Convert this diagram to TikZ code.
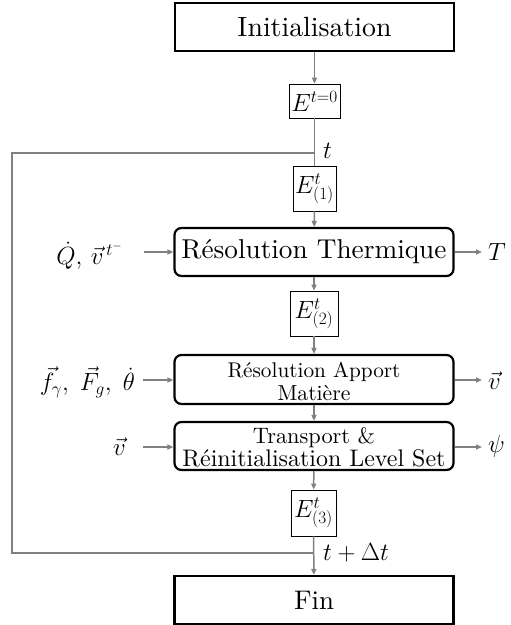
\documentclass[tikz,border=0pt]{standalone}
\usepackage{fontspec}
\usepackage{graphicx}
\setmainfont{lmroman10-regular.otf}[BoldFont=lmroman10-bold.otf,ItalicFont=lmroman10-italic.otf]
\usetikzlibrary{arrows.meta}
\definecolor{lgray}{RGB}{128,128,128}
\newcommand{\fitw}[2]{\resizebox{#1}{!}{#2}}
\begin{document}
\begin{tikzpicture}[x=1pt,y=-1pt,
  bigbox/.style={draw=black,line width=2.2pt,minimum width=279pt,minimum height=48pt,inner sep=0pt,font=\fontsize{27.5}{30}\selectfont},
  rbigbox/.style={bigbox,rounded corners=7pt},
  twoline/.style={align=center,inner sep=0pt,font=\fontsize{22}{23}\selectfont},
  ebox/.style={draw=black,line width=0.8pt,inner sep=0pt,font=\fontsize{24}{26}\selectfont},
  lab/.style={inner sep=0pt,font=\fontsize{24}{26}\selectfont},
  conn/.style={draw=lgray,line width=1.5pt},
  arr/.style={conn,-{Triangle[length=6pt,width=5pt]}}]
\useasboundingbox (0,0) rectangle (511,625);
\node[bigbox] (init) at (314.5,27) {\fitw{154pt}{Initialisation}};
\node[ebox,minimum width=51pt,minimum height=34pt] (e0) at (314.5,101) {$E^{t=0}$};
\node[ebox,minimum width=43pt,minimum height=45pt] (e1) at (314.5,188.5) {$E^{t}_{(1)}$};
\node[rbigbox] (therm) at (314,252) {\fitw{265pt}{Résolution Thermique}};
\node[ebox,minimum width=48pt,minimum height=45pt] (e2) at (314,313.5) {$E^{t}_{(2)}$};
\node[rbigbox,minimum height=49pt] (app) at (314,379.5) {};
\node[twoline] (appt) at (314,381) {\fitw{173pt}{Résolution Apport}\\\fitw{73pt}{Matière}};
\node[rbigbox] (tra) at (314,446) {};
\node[twoline] (trat) at (314,447.5) {\fitw{122pt}{Transport \&}\\\fitw{263pt}{Réinitialisation Level Set}};
\node[ebox,minimum width=45pt,minimum height=46pt] (e3) at (313.5,513) {$E^{t}_{(3)}$};
\node[bigbox] (fin) at (314,600) {\fitw{40pt}{Fin}};

\coordinate (lt) at (314.5,153);
\coordinate (lb) at (314,553);
\coordinate (cl) at (12,153);
\node[lab,anchor=west] (tl) at (323,151) {$t$};
\node[lab,anchor=west] (tdl) at (323,553) {$t+\Delta t$};

\draw[arr] (init) -- (e0);
\draw[conn] (e0) -- (e1);
\draw[arr] (e1) -- (therm);
\draw[arr] (therm) -- (e2);
\draw[arr] (e2) -- (app);
\draw[arr] (app) -- (tra);
\draw[arr] (tra) -- (e3);
\draw[arr] (e3) -- (fin);
\draw[conn] (lb) -| (cl) -- (lt);

% inputs
\node[lab,anchor=east,inner sep=0pt] (qin) at (123,256) {$\dot{Q},\,\vec{v}^{\,t^-}$};
\node[lab,anchor=east,inner sep=0pt,font=\fontsize{26}{28}\selectfont] (fin2) at (135,382) {$\vec{f}_{\gamma},\;\vec{F}_{g},\;\dot{\theta}$};
\node[lab,anchor=east,inner sep=0pt] (vin) at (126,447) {$\vec{v}$};
\coordinate (qa) at (144,252);
\coordinate (fa) at (143,380);
\coordinate (va) at (143,447);
\draw[arr] (qa) -- (therm.west |- qa);
\draw[arr] (fa) -- (app.west |- fa);
\draw[arr] (va) -- (tra.west |- va);
% outputs
\node[lab,anchor=west,inner sep=0pt] (tout) at (488,252) {$T$};
\node[lab,anchor=west,inner sep=0pt] (vout) at (488,381) {$\vec{v}$};
\node[lab,anchor=west,inner sep=0pt] (pout) at (488,446) {$\psi$};
\coordinate (ta) at (482,252);
\coordinate (vo) at (482,380);
\coordinate (po) at (482,447);
\draw[arr] (therm.east |- ta) -- (ta);
\draw[arr] (app.east |- vo) -- (vo);
\draw[arr] (tra.east |- po) -- (po);
\end{tikzpicture}
\end{document}
